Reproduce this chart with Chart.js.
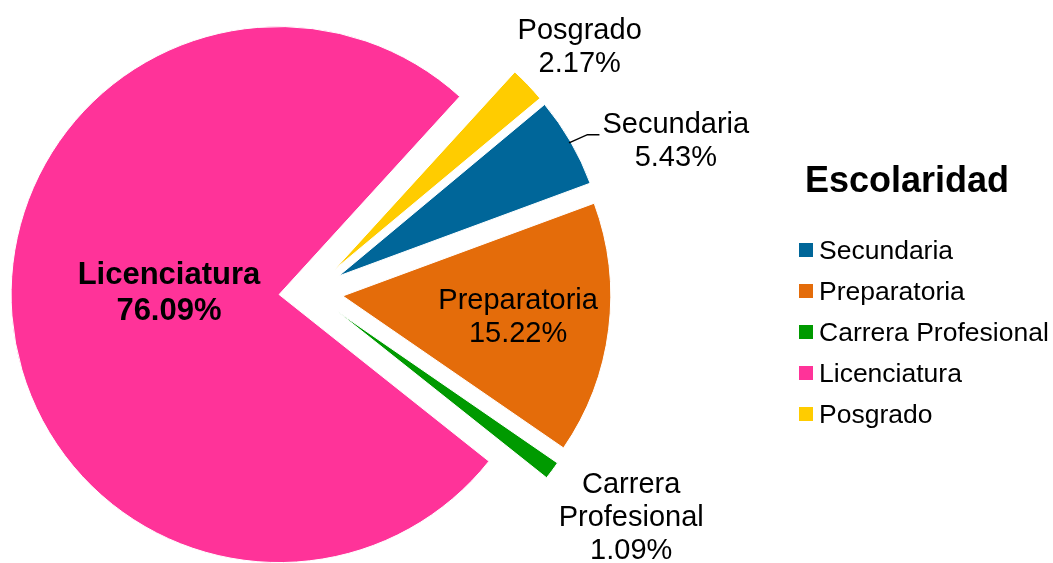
<!DOCTYPE html>
<html lang="es">
<head>
<meta charset="UTF-8">
<title>Escolaridad</title>
<script src="https://cdn.jsdelivr.net/npm/chart.js"></script>
<style>
    html, body { margin: 0; padding: 0; background: #fff; }
    #wrap { width: 1053px; height: 563px; }
</style>
</head>
<body>
<div id="wrap"><canvas id="escolaridadChart"></canvas></div>
<script>
    // data
    const categories = ['Secundaria', 'Preparatoria', 'Carrera Profesional', 'Licenciatura', 'Posgrado'];
    const percentages = [5.43, 15.22, 1.09, 76.09, 2.17];
    const labelLines = [['Secundaria'], ['Preparatoria'], ['Carrera', 'Profesional'], ['Licenciatura'], ['Posgrado']];
    const legendTitle = 'Escolaridad';

    const sliceColors = ['#006699', '#E46C0A', '#009A00', '#FF3399', '#FFCC00'];
    const FONT = '"Liberation Sans", Arial, sans-serif';
    const explodeBy = 32; // every slice pulled out from the centre

    // where each data label sits: distance as a share of the radius, small turn in degrees
    const labelPlacement = [
        { dist: 1.354, turn: 8.3, leader: true },
        { dist: 0.659, turn: -0.3 },
        { dist: 1.343, turn: -1.4 },
        { dist: 0.411, turn: 5.0, bold: true },
        { dist: 1.235, turn: 1.6 }
    ];

    // Excel style explosion: move each arc along its bisector
    const explodePlugin = {
        id: 'explode',
        afterDatasetUpdate(chart, args) {
            chart.getDatasetMeta(args.index).data.forEach(arc => {
                const mid = (arc.startAngle + arc.endAngle) / 2;
                arc.x += Math.cos(mid) * explodeBy;
                arc.y += Math.sin(mid) * explodeBy;
            });
        }
    };

    const sliceLabels = {
        id: 'sliceLabels',
        afterDatasetsDraw(chart) {
            const ctx = chart.ctx;
            const arcs = chart.getDatasetMeta(0).data;
            ctx.save();
            ctx.fillStyle = '#000';
            ctx.textAlign = 'center';
            ctx.textBaseline = 'middle';
            arcs.forEach((arc, i) => {
                const lp = labelPlacement[i];
                const mid = (arc.startAngle + arc.endAngle) / 2;
                const ang = mid + lp.turn * Math.PI / 180;
                const x = arc.x + Math.cos(ang) * arc.outerRadius * lp.dist;
                const y = arc.y + Math.sin(ang) * arc.outerRadius * lp.dist;
                const lines = labelLines[i].concat(percentages[i].toFixed(2) + '%');
                const lh = lp.bold ? 36 : 33;
                ctx.font = (lp.bold ? 'bold 31px ' : '29px ') + FONT;
                lines.forEach((t, j) => {
                    ctx.fillText(t, x, y + (j - (lines.length - 1) / 2) * lh);
                });
                if (lp.leader) {
                    const w = ctx.measureText(labelLines[i][0]).width;
                    const left = x - w / 2;
                    const ly = y - 7;
                    ctx.beginPath();
                    ctx.strokeStyle = '#000';
                    ctx.lineWidth = 1.5;
                    ctx.moveTo(arc.x + Math.cos(mid) * (arc.outerRadius - 2), arc.y + Math.sin(mid) * (arc.outerRadius - 2));
                    ctx.lineTo(left - 15, ly);
                    ctx.lineTo(left - 3, ly);
                    ctx.stroke();
                }
            });
            ctx.restore();
        }
    };

    const sideLegend = {
        id: 'sideLegend',
        afterDraw(chart) {
            const ctx = chart.ctx;
            ctx.save();
            ctx.fillStyle = '#000';
            ctx.textAlign = 'left';
            ctx.textBaseline = 'alphabetic';
            ctx.font = 'bold 36px ' + FONT;
            ctx.fillText(legendTitle, 805, 192);
            ctx.font = '26.5px ' + FONT;
            categories.forEach((name, i) => {
                const base = 259 + i * 41;
                ctx.fillStyle = sliceColors[i];
                ctx.fillRect(799, base - 16, 14, 14);
                ctx.fillStyle = '#000';
                ctx.fillText(name, 819, base);
            });
            ctx.restore();
        }
    };

    const ctx = document.getElementById('escolaridadChart').getContext('2d');
    const escolaridadChart = new Chart(ctx, {
        type: 'pie',
        data: {
            labels: categories,
            datasets: [{
                data: percentages,
                backgroundColor: sliceColors,
                borderColor: '#ffffff',
                borderWidth: 1,
                radius: 268
            }]
        },
        options: {
            responsive: true,
            maintainAspectRatio: false,
            animation: false,
            rotation: 50.2,
            layout: { padding: { left: 0, right: 431, top: 21, bottom: 0 } },
            plugins: {
                legend: { display: false },
                tooltip: { enabled: false }
            }
        },
        plugins: [explodePlugin, sliceLabels, sideLegend]
    });
</script>
</body>
</html>
